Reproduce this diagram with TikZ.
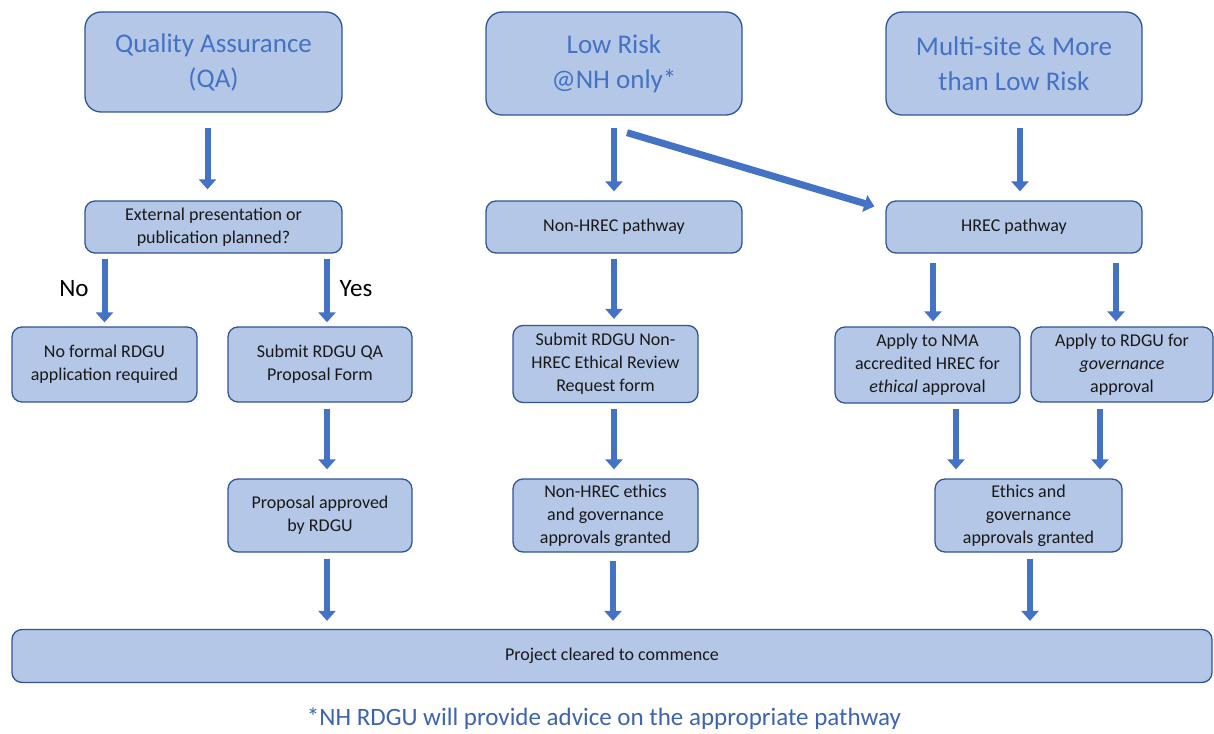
\documentclass[tikz,border=0pt]{standalone}
\usepackage{fontspec}
\setmainfont{Carlito}
\usetikzlibrary{arrows.meta}
\definecolor{boxfill}{HTML}{B4C7E7}
\definecolor{boxline}{HTML}{2F5597}
\definecolor{arrowblue}{HTML}{4472C4}
\definecolor{titleblue}{HTML}{4472C4}
\definecolor{footblue}{HTML}{3D64AE}
\begin{document}
\begin{tikzpicture}[x=1pt,y=-1pt,
  box/.style={draw=boxline, fill=boxfill, line width=1.3pt, rounded corners=10pt,
    align=center, inner sep=0pt, font=\fontsize{18}{23}\selectfont, text=black!90},
  titlebox/.style={box, rounded corners=16pt, font=\fontsize{27}{35}\selectfont, text=titleblue},
  arr/.style={draw=arrowblue, line width=6pt, -{Triangle[width=17pt,length=10pt]}},
  lbl/.style={font=\fontsize{25}{30}\selectfont, text=black, inner sep=0pt},
]
\useasboundingbox (0,0) rectangle (1214,733);

% titles
\node[titlebox, minimum width=257pt, minimum height=100pt] (qa) at (213.5,62) {Quality Assurance\\(QA)};
\node[titlebox, minimum width=256pt, minimum height=103pt] (low) at (614,63.5) {Low Risk\\@NH only*};
\node[titlebox, minimum width=256pt, minimum height=103pt] (multi) at (1014,63.5) {Multi-site \& More\\than Low Risk};

% row 2
\node[box, minimum width=257pt, minimum height=52pt] (ext) at (213.5,227) {External presentation or\\publication planned?};
\node[box, minimum width=256pt, minimum height=52pt] (nonh) at (614,227) {Non-HREC pathway};
\node[box, minimum width=256pt, minimum height=52pt] (hrec) at (1014,227) {HREC pathway};

% row 3
\node[box, minimum width=185pt, minimum height=75pt] (nof) at (104.5,364.5) {No formal RDGU\\application required};
\node[box, minimum width=184pt, minimum height=75pt] (sqa) at (320,364.5) {Submit RDGU QA\\Proposal Form};
\node[box, minimum width=185pt, minimum height=77pt] (snh) at (605.5,364) {Submit RDGU Non-\\HREC Ethical Review\\Request form};
\node[box, minimum width=185pt, minimum height=76pt] (nma) at (927.5,365) {Apply to NMA\\accredited HREC for\\\textit{ethical} approval};
\node[box, minimum width=182pt, minimum height=75pt] (rgov) at (1122,364.5) {Apply to RDGU for\\\textit{governance}\\approval};

% row 4
\node[box, minimum width=184pt, minimum height=73pt] (prop) at (320,515.5) {Proposal approved\\by RDGU};
\node[box, minimum width=185pt, minimum height=73pt] (nhe) at (605.5,515.5) {Non-HREC ethics\\and governance\\approvals granted};
\node[box, minimum width=187pt, minimum height=73pt] (eth) at (1028.5,515.5) {Ethics and\\governance\\approvals granted};

% bottom
\node[box, minimum width=1200pt, minimum height=53pt] (proj) at (612,656) {Project cleared to commence};
\node[font=\fontsize{25}{30}\selectfont, text=footblue, inner sep=0pt] (foot) at (604,719) {*NH RDGU will provide advice on the appropriate pathway};

% labels
\node[lbl] (no) at (74,289) {No};
\node[lbl] (yes) at (356,289) {Yes};

% arrows
\draw[arr] ([xshift=-6pt,yshift=-15pt]qa.south) -- ([xshift=-6pt,yshift=11pt]ext.north);
\draw[arr] ([yshift=-12pt]low.south) -- ([yshift=9pt]nonh.north);
\draw[arr, line width=7pt] ([xshift=13pt,yshift=-17pt]low.south) -- ([xshift=-11pt,yshift=-6pt]hrec.north west);
\draw[arr] ([xshift=6pt,yshift=-12pt]multi.south) -- ([xshift=6pt,yshift=9pt]hrec.north);

\draw[arr] ([yshift=-5pt]ext.south -| nof.north) -- ([yshift=4pt]nof.north);
\draw[arr] ([xshift=7pt,yshift=-5pt]ext.south -| sqa.north) -- ([xshift=7pt,yshift=4pt]sqa.north);

\draw[arr] ([yshift=-5pt]nonh.south) -- ([yshift=6pt]snh.north -| nonh.south);
\draw[arr] ([xshift=-81pt,yshift=-9pt]hrec.south) -- ([xshift=5.5pt,yshift=5pt]nma.north);
\draw[arr] ([xshift=102pt,yshift=-9pt]hrec.south) -- ([xshift=-6pt,yshift=5pt]rgov.north);

\draw[arr] ([xshift=7pt,yshift=-6pt]sqa.south) -- ([xshift=7pt,yshift=9pt]prop.north);
\draw[arr] ([xshift=8.5pt,yshift=-6pt]snh.south) -- ([xshift=8.5pt,yshift=9pt]nhe.north);
\draw[arr] ([xshift=28.5pt,yshift=-5pt]nma.south) -- ([xshift=-72.5pt,yshift=9pt]eth.north);
\draw[arr] ([xshift=-22pt,yshift=-6pt]rgov.south) -- ([xshift=71.5pt,yshift=9pt]eth.north);

\draw[arr] ([xshift=7pt,yshift=-6pt]prop.south) -- ([xshift=7pt,yshift=8pt]proj.north -| prop.south);
\draw[arr] ([xshift=7.5pt,yshift=-8pt]nhe.south) -- ([xshift=7.5pt,yshift=8pt]proj.north -| nhe.south);
\draw[arr] ([xshift=1.5pt,yshift=-6pt]eth.south) -- ([xshift=1.5pt,yshift=8pt]proj.north -| eth.south);
\end{tikzpicture}
\end{document}
